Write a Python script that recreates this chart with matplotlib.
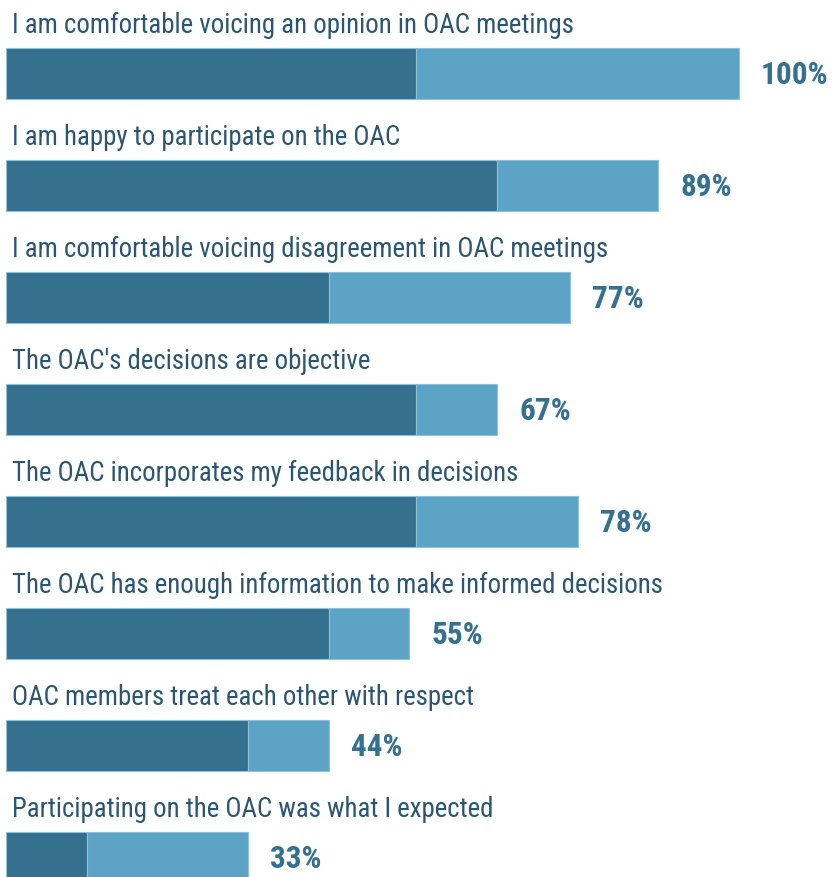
import matplotlib
matplotlib.use("Agg")
import matplotlib.pyplot as plt
from matplotlib import font_manager

categories = [
    "I am comfortable voicing an opinion in OAC meetings",
    "I am happy to participate on the OAC",
    "I am comfortable voicing disagreement in OAC meetings",
    "The OAC's decisions are objective",
    "The OAC incorporates my feedback in decisions",
    "The OAC has enough information to make informed decisions",
    "OAC members treat each other with respect",
    "Participating on the OAC was what I expected",
]
strongly = [56, 67, 44, 56, 56, 44, 33, 11]
agree = [44, 22, 33, 11, 22, 11, 11, 22]
totals = ["100%", "89%", "77%", "67%", "78%", "55%", "44%", "33%"]

names = {f.name for f in font_manager.fontManager.ttflist}
fam = "Liberation Sans"
for cand in ["Liberation Sans Narrow", "Arial Narrow", "Roboto Condensed", "Archivo Narrow"]:
    if cand in names:
        fam = cand
        break

dark = "#35718f"
light = "#5ca3c6"
text_c = "#2b5570"

W, H = 832, 877
fig = plt.figure(figsize=(W / 100, H / 100), dpi=100)
ax = fig.add_axes([0, 0, 1, 1])
ax.axis("off")

pxu = 7.33
ax.set_xlim(-6 / pxu, (W - 6) / pxu)
row = 112.0
ax.set_ylim((H - 73.5) / row, -73.5 / row)

ys = list(range(len(categories)))
bh = 51 / row
ax.barh(ys, strongly, height=bh, color=dark, edgecolor="#8ec2dc", linewidth=0.8)
ax.barh(ys, agree, left=strongly, height=bh, color=light, edgecolor="#8ec2dc", linewidth=0.8)

for i, (c, s, a, t) in enumerate(zip(categories, strongly, agree, totals)):
    ax.text(0.8, i - 48 / row, c, fontsize=19.4, family=[fam, "DejaVu Sans"],
            color=text_c, va="center", ha="left")
    ax.text(s + a + 3.0, i + 2 / row, t, fontsize=22.5, family=[fam, "DejaVu Sans"], fontweight="bold",
            color=dark, va="center", ha="left")

fig.savefig("out.png", dpi=100)
